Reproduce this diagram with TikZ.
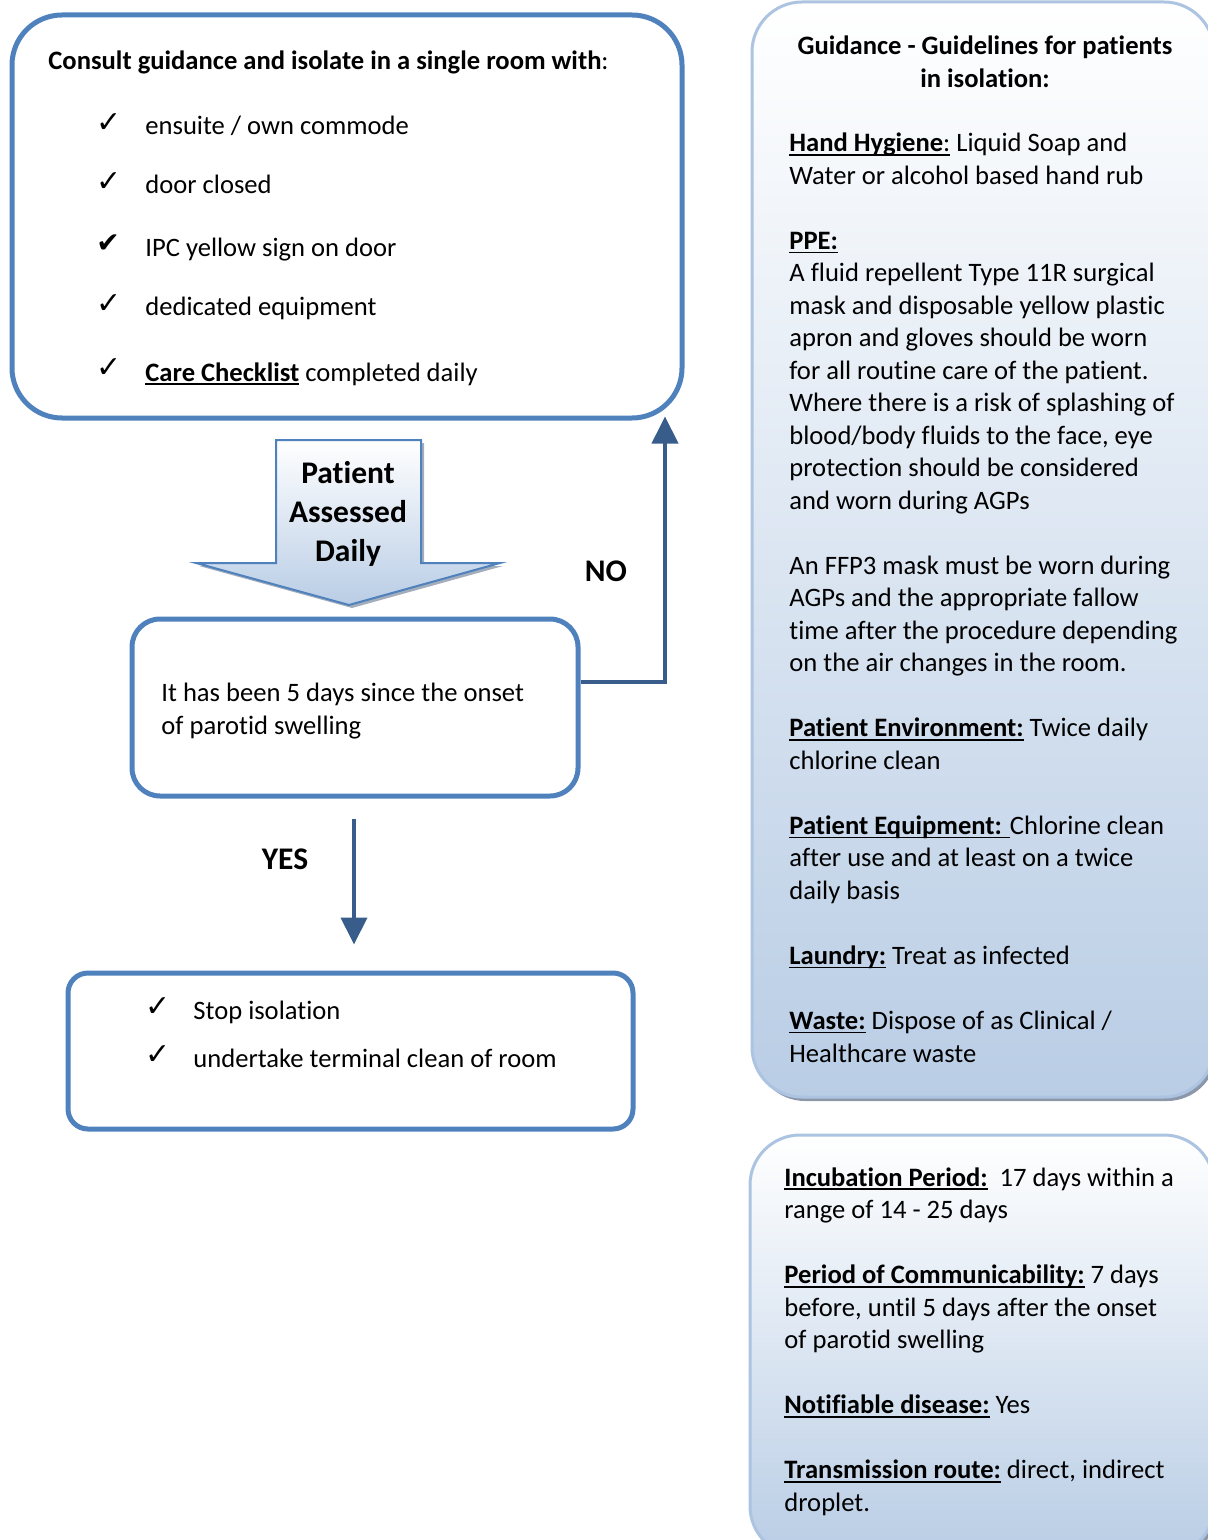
\documentclass[tikz,border=0pt]{standalone}
\usepackage{fontspec}
\setmainfont{Carlito}[Ligatures=CommonOff]
\newfontfamily\symfont{DejaVu Sans}
\usetikzlibrary{arrows.meta,calc}

\definecolor{boxblue}{RGB}{79,129,189}
\definecolor{connblue}{RGB}{56,93,138}
\definecolor{panelblue}{RGB}{185,205,229}
\definecolor{paneledge}{RGB}{172,195,225}
\definecolor{shadowgray}{RGB}{140,152,170}

\newcommand\fsnorm{\fontsize{13.3}{16.25}\selectfont}
\newcommand\fsbig{\fontsize{15.75}{19.5}\selectfont}
\newcommand\ulx[1]{\setbox0=\hbox{#1}\rlap{\rule[-2pt]{\wd0}{0.8pt}}\box0\relax}
\newcommand\tick{{\symfont\fontsize{15}{17}\selectfont ✓}}
\newcommand\tickb{{\symfont\fontsize{14}{17}\selectfont ✔}}

\tikzset{
  flowbox/.style={draw=boxblue, line width=2.5pt, rectangle, inner sep=0pt},
  conn/.style={draw=connblue, line width=2pt, -{Triangle[width=13pt,length=13.5pt]}},
  txt/.style={anchor=base west, inner sep=0pt, font=\fsnorm},
  tk/.style={anchor=base west, inner sep=0pt},
  label/.style={font=\fsbig\bfseries, inner sep=0pt},
  panel/.style={draw=paneledge, line width=1.5pt, top color=white, bottom color=panelblue, rounded corners=25pt},
  panelshadow/.style={fill=shadowgray, rounded corners=25pt}
}

\begin{document}
\begin{tikzpicture}[x=0.5pt,y=-0.5pt]
\useasboundingbox (0,0) rectangle (1208,1540);
\clip (0,0) rectangle (1208,1540);

% ---- right panel 1
\path[panelshadow] (755,6) rectangle (1217,1101);
\path[panel] (752,2) rectangle (1214,1097);
\node[anchor=base, inner sep=0pt, font=\fsnorm\bfseries] (ptitle) at (985,55)
  {\begin{tabular}[t]{@{}c@{}}Guidance - Guidelines for patients\\ in isolation:\end{tabular}};
\node[txt] (pbody) at (789,152) {\begin{tabular}[t]{@{}l@{}}
\ulx{\textbf{Hand Hygiene}:} Liquid Soap and\\
Water or alcohol based hand rub\\
\\
\ulx{\textbf{PPE:}}\\
A fluid repellent Type 11R surgical\\
mask and disposable yellow plastic\\
apron and gloves should be worn\\
for all routine care of the patient.\\
Where there is a risk of splashing of\\
blood/body fluids to the face, eye\\
protection should be considered\\
and worn during AGPs\\
\\
An FFP3 mask must be worn during\\
AGPs and the appropriate fallow\\
time after the procedure depending\\
on the air changes in the room.\\
\\
\ulx{\textbf{Patient Environment:}} Twice daily\\
chlorine clean\\
\\
\ulx{\textbf{Patient Equipment: }}Chlorine clean\\
after use and at least on a twice\\
daily basis\\
\\
\ulx{\textbf{Laundry:}} Treat as infected\\
\\
\ulx{\textbf{Waste:}} Dispose of as Clinical /\\
Healthcare waste
\end{tabular}};

% ---- right panel 2
\path[panelshadow] (753,1139) rectangle (1217,1560);
\path[panel] (750,1135) rectangle (1214,1556);
\node[txt] (pbody2) at (784,1186) {\begin{tabular}[t]{@{}l@{}}
\ulx{\textbf{Incubation Period:}}\ \ 17 days within a\\
range of 14 - 25 days\\
\\
\ulx{\textbf{Period of Communicability:}} 7 days\\
before, until 5 days after the onset\\
of parotid swelling\\
\\
\ulx{\textbf{Notifiable disease:}} Yes\\
\\
\ulx{\textbf{Transmission route:}} direct, indirect\\
droplet.
\end{tabular}};

% ---- box 1
\node[flowbox, rounded corners=25pt, minimum width=335pt, minimum height=201.5pt] (box1) at (347,216.5) {};
\node[txt] (hdr) at (48,70) {\textbf{Consult guidance and isolate in a single room with}:};
\node[tk] (t1) at (96,133) {\tick};
\node[txt] (i1) at (145,135) {ensuite / own commode};
\node[tk] (t2) at (96,192) {\tick};
\node[txt] (i2) at (145,194) {door closed};
\node[tk] (t3) at (96,253) {\tickb};
\node[txt] (i3) at (145,257) {IPC yellow sign on door};
\node[tk] (t4) at (96,314) {\tick};
\node[txt] (i4) at (145,316) {dedicated equipment};
\node[tk] (t5) at (96,378) {\tick};
\node[txt] (i5) at (145,381) {\ulx{\textbf{Care Checklist}} completed daily};

% ---- block arrow
\fill[shadowgray!80] ($(276,440)+(3,3)$) -- ($(421,440)+(3,3)$) -- ($(421,563)+(3,3)$) -- ($(500,563)+(3,3)$)
   -- ($(349,605)+(3,3)$) -- ($(196,563)+(3,3)$) -- ($(276,563)+(3,3)$) -- cycle;
\draw[draw=boxblue, line width=1pt, top color=white, bottom color=panelblue]
   (276,440) -- (421,440) -- (421,563) -- (500,563) -- (349,605) -- (196,563) -- (276,563) -- cycle;
\node[label, align=center] (pad) at (348,514) {Patient\\Assessed\\Daily};

% ---- box 2
\node[flowbox, rounded corners=14pt, minimum width=223pt, minimum height=88.5pt] (box2) at (355,707.5) {};
\node[txt] (b2a) at (161,701) {It has been 5 days since the onset};
\node[txt] (b2b) at (161,734) {of parotid swelling};

% ---- box 3
\node[flowbox, rounded corners=10pt, minimum width=282.5pt, minimum height=78pt] (box3) at (350.5,1051) {};
\node[tk] (t6) at (145,1016) {\tick};
\node[txt] (b3a) at (193,1019) {Stop isolation};
\node[tk] (t7) at (145,1064) {\tick};
\node[txt] (b3b) at (193,1067) {undertake terminal clean of room};

% ---- connectors
\coordinate (noTurn) at (665,682);
\coordinate (yesX) at (354,0);
\draw[conn, shorten >=-2pt] (box2.east |- noTurn) -- (noTurn) -- (box1.south -| noTurn);
\draw[conn, shorten <=10pt, shorten >=13pt] (box2.south -| yesX) -- (box3.north -| yesX);
\node[label] (no) at (606,571) {NO};
\node[label] (yes) at (285,859) {YES};
\end{tikzpicture}
\end{document}
